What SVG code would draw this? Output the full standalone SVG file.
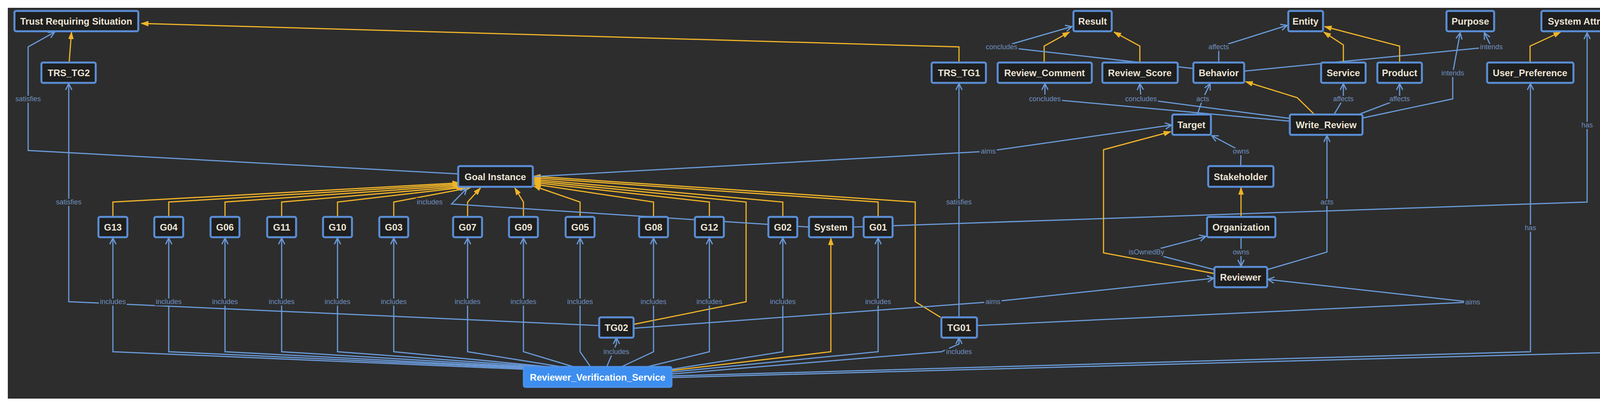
<svg xmlns="http://www.w3.org/2000/svg" width="4328" height="1044" viewBox="0 0 4328 1044">
<defs>
<marker id="ab" viewBox="0 0 20 20" refX="18" refY="10" markerWidth="20" markerHeight="20" markerUnits="userSpaceOnUse" orient="auto"><path d="M2,2 L18,10 L2,18" fill="none" stroke="#6a9ad8" stroke-width="3"/></marker>
<marker id="ay" viewBox="0 0 20 20" refX="18" refY="10" markerWidth="20" markerHeight="20" markerUnits="userSpaceOnUse" orient="auto"><path d="M0,3 L20,10 L0,17 Z" fill="#f0b429"/></marker>
</defs>
<style>
.n rect{fill:#1f1f1f;stroke:#5b8fd6;stroke-width:5}
.n text{font-family:"Liberation Sans",Arial,sans-serif;font-size:24px;font-weight:bold;fill:#ece4d4;text-anchor:middle;dominant-baseline:central}
.b{fill:none;stroke:#6a9ad8;stroke-width:3;marker-end:url(#ab)}
.y{fill:none;stroke:#f0b429;stroke-width:3;marker-end:url(#ay)}
.l{font-family:"Liberation Sans",Arial,sans-serif;font-size:18px;fill:#6f8fc0;text-anchor:middle;dominant-baseline:central;stroke:#2d2d2d;stroke-width:8;paint-order:stroke}
</style>
<rect width="4328" height="1044" fill="#ffffff"/>
<rect x="20" y="20" width="4290" height="1000" fill="#2d2d2d"/>
<g id="connectors">
<!-- TRS edges -->
<path class="y" d="M2455,160 L2455,120 L362,60"/>
<path class="y" d="M177,160 L183,82"/>
<path class="b" d="M1173,445 L72,385 L72,120 L140,82"/>
<path class="b" d="M1534,833 L176,772 L176,214"/>
<path class="b" d="M2455,812 L2455,214"/>
<!-- G -> Goal Instance -->
<path class="y" d="M289,555 L289,517 L1176,468"/>
<path class="y" d="M432,555 L432,517 L1178,471"/>
<path class="y" d="M576,555 L576,517 L1182,474"/>
<path class="y" d="M721,555 L721,517 L1186,477"/>
<path class="y" d="M864,555 L864,517 L1190,479"/>
<path class="y" d="M1008,555 L1008,517 L1205,480"/>
<path class="y" d="M1197,555 L1197,517 L1230,481"/>
<path class="y" d="M1340,555 L1340,517 L1318,481"/>
<path class="y" d="M1485,555 L1485,517 L1366,476"/>
<path class="y" d="M1673,555 L1673,517 L1366,471"/>
<path class="y" d="M1816,555 L1816,517 L1366,467"/>
<path class="y" d="M1622,830 L1910,772 L1910,517 L1366,463"/>
<path class="y" d="M2004,555 L2004,517 L1366,459"/>
<path class="y" d="M2248,555 L2248,517 L1366,455"/>
<path class="y" d="M2408,812 L2343,772 L2343,517 L1366,451"/>
<path class="b" d="M2071,581 L1156,522 L1195,482"/>
<!-- RVS includes -->
<path class="b" d="M1345,945 L289,900 L289,609"/>
<path class="b" d="M1360,943 L432,900 L432,609"/>
<path class="b" d="M1375,942 L576,900 L576,609"/>
<path class="b" d="M1390,941 L721,900 L721,609"/>
<path class="b" d="M1405,940 L864,900 L864,609"/>
<path class="b" d="M1420,940 L1008,900 L1008,609"/>
<path class="b" d="M1440,939 L1197,900 L1197,609"/>
<path class="b" d="M1470,939 L1340,900 L1340,609"/>
<path class="b" d="M1512,939 L1485,900 L1485,609"/>
<path class="b" d="M1553,939 L1578,880 L1578,864"/>
<path class="b" d="M1590,939 L1673,900 L1673,609"/>
<path class="b" d="M1655,939 L1816,900 L1816,609"/>
<path class="b" d="M1719,945 L2004,900 L2004,609"/>
<path class="b" d="M1719,952 L2248,900 L2248,609"/>
<path class="b" d="M1719,957 L2410,900 L2455,880 L2455,864"/>
<path class="y" d="M1719,948 L2127,900 L2127,609"/>
<path class="b" d="M1719,962 L3918,900 L3918,214"/>
<path class="b" d="M1719,966 L4198,900 L4198,214"/>
<!-- aims -->
<path class="b" d="M1622,840 L2542,772 L3107,712"/>
<path class="b" d="M2501,833 L3766,773 L3246,715"/>
<path class="b" d="M1364,452 L2530,387 L2999,320"/>
<!-- System has -->
<path class="b" d="M2184,581 L4063,517 L4063,84"/>
<!-- right cluster -->
<path class="y" d="M2673,160 L2673,118 L2738,82"/>
<path class="y" d="M2918,160 L2918,118 L2852,82"/>
<path class="b" d="M3053,175 L2564,120 L2744,68"/>
<path class="b" d="M3302,310 L2675,253 L2675,214"/>
<path class="b" d="M3302,303 L2921,253 L2918,214"/>
<path class="b" d="M3120,160 L3120,120 L3295,65"/>
<path class="b" d="M3185,182 L3818,120 L3800,84"/>
<path class="y" d="M3439,160 L3439,115 L3389,82"/>
<path class="y" d="M3583,160 L3583,118 L3391,68"/>
<path class="y" d="M3365,293 L3321,250 L3189,209"/>
<path class="b" d="M3065,293 L3079,253 L3098,214"/>
<path class="b" d="M3415,293 L3439,253 L3439,214"/>
<path class="b" d="M3478,293 L3583,253 L3583,214"/>
<path class="b" d="M3488,302 L3719,253 L3719,187 L3738,84"/>
<path class="y" d="M3917,160 L3917,118 L3995,82"/>
<path class="y" d="M4197,160 L4197,118 L4122,82"/>
<path class="b" d="M3244,690 L3397,645 L3397,347"/>
<path class="b" d="M3176,425 L3177,387 L3102,347"/>
<path class="y" d="M3177,555 L3177,480"/>
<path class="b" d="M3177,607 L3177,645 L3177,681"/>
<path class="b" d="M3109,690 L2935,645 L3087,605"/>
<path class="y" d="M3109,700 L2825,647 L2825,383 L2997,337"/>
<text class="l" x="72" y="253">satisfies</text>
<text class="l" x="176" y="517">satisfies</text>
<text class="l" x="2455" y="517">satisfies</text>
<text class="l" x="289" y="772">includes</text>
<text class="l" x="432" y="772">includes</text>
<text class="l" x="576" y="772">includes</text>
<text class="l" x="721" y="772">includes</text>
<text class="l" x="864" y="772">includes</text>
<text class="l" x="1008" y="772">includes</text>
<text class="l" x="1197" y="772">includes</text>
<text class="l" x="1340" y="772">includes</text>
<text class="l" x="1485" y="772">includes</text>
<text class="l" x="1673" y="772">includes</text>
<text class="l" x="1816" y="772">includes</text>
<text class="l" x="2004" y="772">includes</text>
<text class="l" x="2248" y="772">includes</text>
<text class="l" x="1578" y="900">includes</text>
<text class="l" x="2455" y="900">includes</text>
<text class="l" x="1100" y="517">includes</text>
<text class="l" x="2542" y="772">aims</text>
<text class="l" x="3770" y="773">aims</text>
<text class="l" x="2530" y="387">aims</text>
<text class="l" x="2564" y="120">concludes</text>
<text class="l" x="2675" y="253">concludes</text>
<text class="l" x="2921" y="253">concludes</text>
<text class="l" x="3120" y="120">affects</text>
<text class="l" x="3439" y="253">affects</text>
<text class="l" x="3583" y="253">affects</text>
<text class="l" x="3818" y="120">intends</text>
<text class="l" x="3719" y="187">intends</text>
<text class="l" x="3079" y="253">acts</text>
<text class="l" x="3397" y="517">acts</text>
<text class="l" x="3177" y="387">owns</text>
<text class="l" x="3177" y="645">owns</text>
<text class="l" x="2935" y="645">isOwnedBy</text>
<text class="l" x="4063" y="320">has</text>
<text class="l" x="3918" y="583">has</text>
<text class="l" x="4198" y="583">has</text>
</g>
<g id="n-trs" class="n"><rect x="37" y="28" width="317" height="52" rx="4"/><text x="195" y="54">Trust Requiring Situation</text></g>
<g id="n-trstg2" class="n"><rect x="106" y="160" width="139" height="52" rx="4"/><text x="176" y="186">TRS_TG2</text></g>
<g id="n-gi" class="n"><rect x="1173" y="425" width="191" height="53" rx="4"/><text x="1268" y="452">Goal Instance</text></g>
<g id="n-g13" class="n"><rect x="252" y="555" width="74" height="52" rx="4"/><text x="289" y="581">G13</text></g>
<g id="n-g04" class="n"><rect x="395" y="555" width="74" height="52" rx="4"/><text x="432" y="581">G04</text></g>
<g id="n-g06" class="n"><rect x="539" y="555" width="74" height="52" rx="4"/><text x="576" y="581">G06</text></g>
<g id="n-g11" class="n"><rect x="684" y="555" width="74" height="52" rx="4"/><text x="721" y="581">G11</text></g>
<g id="n-g10" class="n"><rect x="827" y="555" width="74" height="52" rx="4"/><text x="864" y="581">G10</text></g>
<g id="n-g03" class="n"><rect x="971" y="555" width="74" height="52" rx="4"/><text x="1008" y="581">G03</text></g>
<g id="n-g07" class="n"><rect x="1160" y="555" width="74" height="52" rx="4"/><text x="1197" y="581">G07</text></g>
<g id="n-g09" class="n"><rect x="1303" y="555" width="74" height="52" rx="4"/><text x="1340" y="581">G09</text></g>
<g id="n-g05" class="n"><rect x="1448" y="555" width="74" height="52" rx="4"/><text x="1485" y="581">G05</text></g>
<g id="n-g08" class="n"><rect x="1636" y="555" width="74" height="52" rx="4"/><text x="1673" y="581">G08</text></g>
<g id="n-g12" class="n"><rect x="1779" y="555" width="74" height="52" rx="4"/><text x="1816" y="581">G12</text></g>
<g id="n-g02" class="n"><rect x="1967" y="555" width="74" height="52" rx="4"/><text x="2004" y="581">G02</text></g>
<g id="n-system" class="n"><rect x="2071" y="555" width="113" height="52" rx="4"/><text x="2127" y="581">System</text></g>
<g id="n-g01" class="n"><rect x="2211" y="555" width="74" height="52" rx="4"/><text x="2248" y="581">G01</text></g>
<g id="n-tg02" class="n"><rect x="1534" y="812" width="88" height="52" rx="4"/><text x="1578" y="838">TG02</text></g>
<g id="n-tg01" class="n"><rect x="2410" y="812" width="91" height="52" rx="4"/><text x="2455" y="838">TG01</text></g>
<g id="n-rvs" class="n"><rect x="1341" y="939" width="378" height="51" rx="4" style="fill:#3d8ef0;stroke:#4a90e8"/><text x="1530" y="965" style="fill:#ffffff">Reviewer_Verification_Service</text></g>
<g id="n-trstg1" class="n"><rect x="2385" y="160" width="139" height="52" rx="4"/><text x="2455" y="186">TRS_TG1</text></g>
<g id="n-result" class="n"><rect x="2748" y="28" width="98" height="52" rx="4"/><text x="2797" y="54">Result</text></g>
<g id="n-rc" class="n"><rect x="2554" y="160" width="241" height="52" rx="4"/><text x="2674" y="186">Review_Comment</text></g>
<g id="n-rs" class="n"><rect x="2822" y="160" width="193" height="52" rx="4"/><text x="2918" y="186">Review_Score</text></g>
<g id="n-behavior" class="n"><rect x="3055" y="160" width="130" height="52" rx="4"/><text x="3120" y="186">Behavior</text></g>
<g id="n-entity" class="n"><rect x="3298" y="28" width="89" height="52" rx="4"/><text x="3342" y="54">Entity</text></g>
<g id="n-service" class="n"><rect x="3382" y="160" width="114" height="52" rx="4"/><text x="3439" y="186">Service</text></g>
<g id="n-product" class="n"><rect x="3526" y="160" width="114" height="52" rx="4"/><text x="3583" y="186">Product</text></g>
<g id="n-purpose" class="n"><rect x="3703" y="28" width="122" height="52" rx="4"/><text x="3764" y="54">Purpose</text></g>
<g id="n-sa" class="n"><rect x="3946" y="28" width="224" height="52" rx="4"/><text x="4058" y="54">System Attribute</text></g>
<g id="n-up" class="n"><rect x="3807" y="160" width="221" height="52" rx="4"/><text x="3917" y="186">User_Preference</text></g>
<g id="n-ri" class="n"><rect x="4101" y="160" width="193" height="52" rx="4"/><text x="4197" y="186">Reviewer_Info</text></g>
<g id="n-target" class="n"><rect x="3001" y="293" width="99" height="52" rx="4"/><text x="3050" y="319">Target</text></g>
<g id="n-wr" class="n"><rect x="3302" y="293" width="186" height="52" rx="4"/><text x="3395" y="319">Write_Review</text></g>
<g id="n-stakeholder" class="n"><rect x="3093" y="425" width="167" height="53" rx="4"/><text x="3176" y="452">Stakeholder</text></g>
<g id="n-org" class="n"><rect x="3090" y="555" width="175" height="52" rx="4"/><text x="3177" y="581">Organization</text></g>
<g id="n-reviewer" class="n"><rect x="3109" y="683" width="135" height="52" rx="4"/><text x="3176" y="709">Reviewer</text></g>
</svg>
